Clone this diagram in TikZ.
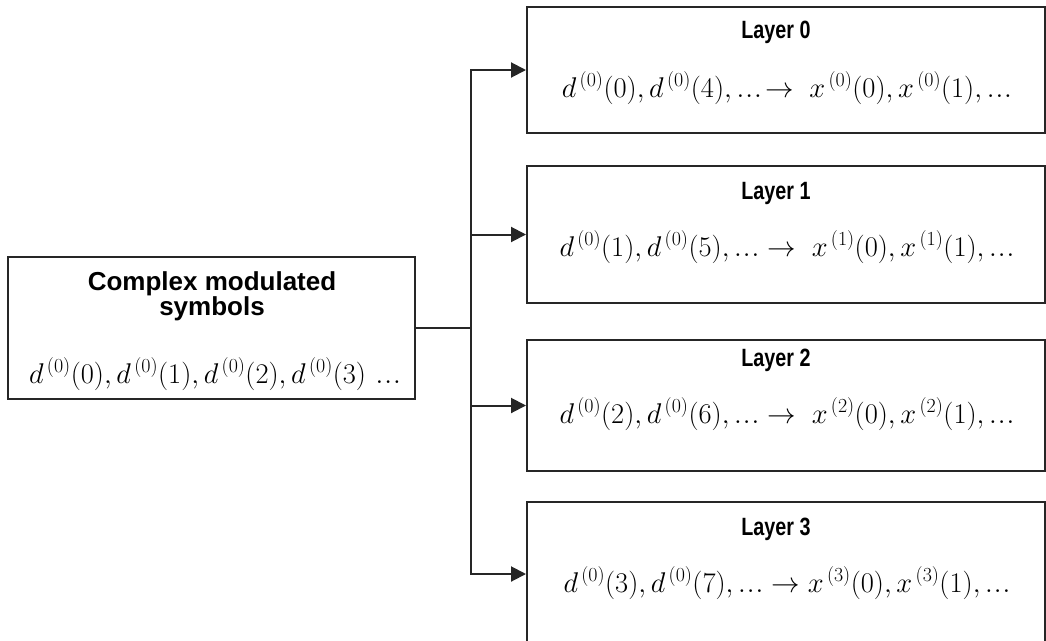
\RequirePackage{fix-cm}
\documentclass[tikz,border=0pt]{standalone}
\usepackage{fontspec}
\setmainfont{Liberation Sans}
\newfontfamily\layerfont{Liberation Sans Bold}[FakeStretch=0.79]
\usetikzlibrary{arrows.meta}
\newcommand{\mydots}{\mathinner{.\kern1pt.\kern1pt.}}
\begin{document}
\begin{tikzpicture}[x=1pt,y=-1pt,
  box/.style={draw=black!85,line width=2pt,minimum width=#1,inner sep=0pt},
  title/.style={font=\layerfont\fontsize{25}{27}\selectfont,inner sep=0pt},
  ctitle/.style={font=\bfseries\fontsize{26}{24}\selectfont,align=center,inner sep=0pt},
  formula/.style={font=\fontsize{28.5}{32}\selectfont,inner sep=0pt},
  conn/.style={draw=black!85,line width=2pt},
  arr/.style={conn,-{Triangle[length=15pt,width=15pt]}}]
\useasboundingbox (0,0) rectangle (1046,640);
\clip (0,0) rectangle (1046,640);
% boxes
\node[box=407pt,minimum height=142pt] (src) at (211.5,328) {};
\node[box=518pt,minimum height=126pt] (L0) at (786,70) {};
\node[box=518pt,minimum height=137pt] (L1) at (786,234.5) {};
\node[box=518pt,minimum height=131pt] (L2) at (786,405.5) {};
\node[box=518pt,minimum height=144pt] (L3) at (786,574) {};
% texts
\node[ctitle] (srct) at (212,296) {Complex modulated\\symbols};
\node[formula] (srcf) at (215,374) {$d^{\,(0)}(0), d^{\,(0)}(1), d^{\,(0)}(2), d^{\,(0)}(3)\,\mydots$};
\node[title] (t0) at (776,32) {Layer 0};
\node[formula] (f0) at (787,88) {$d^{\,(0)}(0), d^{\,(0)}(4), \mydots\!\rightarrow\; x^{\,(0)}(0), x^{\,(0)}(1), \mydots$};
\node[title] (t1) at (776,193) {Layer 1};
\node[formula] (f1) at (787,247) {$d^{\,(0)}(1), d^{\,(0)}(5), \mydots\rightarrow\; x^{\,(1)}(0), x^{\,(1)}(1), \mydots$};
\node[title] (t2) at (776,360) {Layer 2};
\node[formula] (f2) at (787,414) {$d^{\,(0)}(2), d^{\,(0)}(6), \mydots\rightarrow\; x^{\,(2)}(0), x^{\,(2)}(1), \mydots$};
\node[title] (t3) at (776,529) {Layer 3};
\node[formula] (f3) at (787,583) {$d^{\,(0)}(3), d^{\,(0)}(7), \mydots\rightarrow x^{\,(3)}(0), x^{\,(3)}(1), \mydots$};
% connectors
\coordinate (j) at (471,328);
\draw[conn] (src.east) -- (j);
\foreach \i in {0,1,2,3} \draw[arr] (j) |- (L\i.west);
\end{tikzpicture}
\end{document}
